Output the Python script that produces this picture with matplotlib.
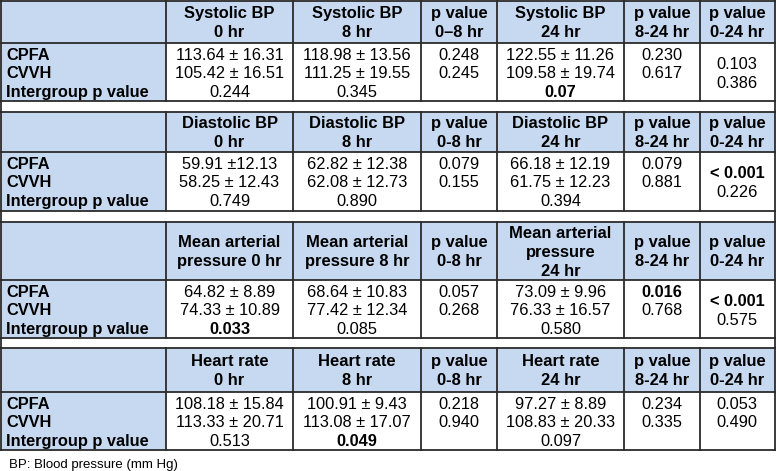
import matplotlib
matplotlib.use("Agg")
import matplotlib.pyplot as plt
from matplotlib.patches import Rectangle

plt.rcParams['font.family'] = ['Liberation Sans', 'DejaVu Sans']

# ---- table content ---------------------------------------------------
row_labels = ['CPFA', 'CVVH', 'Intergroup p value']

sys_header = ['Systolic BP\n0 hr', 'Systolic BP\n8 hr', 'p value\n0\u20138 hr',
              'Systolic BP\n24 hr', 'p value\n8-24 hr', 'p value\n0-24 hr']
sys_cpfa = ['113.64 \u00b1 16.31', '118.98 \u00b1 13.56', '0.248', '122.55 \u00b1 11.26', '0.230', '0.103']
sys_cvvh = ['105.42 \u00b1 16.51', '111.25 \u00b1 19.55', '0.245', '109.58 \u00b1 19.74', '0.617', '0.386']
sys_inter = ['0.244', '0.345', '', '0.07', '', '']

dia_header = ['Diastolic BP\n0 hr', 'Diastolic BP\n8 hr', 'p value\n0-8 hr',
              'Diastolic BP\n24 hr', 'p value\n8-24 hr', 'p value\n0-24 hr']
dia_cpfa = ['59.91 \u00b112.13', '62.82 \u00b1 12.38', '0.079', '66.18 \u00b1 12.19', '0.079', '< 0.001']
dia_cvvh = ['58.25 \u00b1 12.43', '62.08 \u00b1 12.73', '0.155', '61.75 \u00b1 12.23', '0.881', '0.226']
dia_inter = ['0.749', '0.890', '', '0.394', '', '']

map_header = ['Mean arterial\npressure 0 hr', 'Mean arterial\npressure 8 hr', 'p value\n0-8 hr',
              'Mean arterial\npressure\n24 hr', 'p value\n8-24 hr', 'p value\n0-24 hr']
map_cpfa = ['64.82 \u00b1 8.89', '68.64 \u00b1 10.83', '0.057', '73.09 \u00b1 9.96', '0.016', '< 0.001']
map_cvvh = ['74.33 \u00b1 10.89', '77.42 \u00b1 12.34', '0.268', '76.33 \u00b1 16.57', '0.768', '0.575']
map_inter = ['0.033', '0.085', '', '0.580', '', '']

hr_header = ['Heart rate\n0 hr', 'Heart rate\n8 hr', 'p value\n0-8 hr',
             'Heart rate\n24 hr', 'p value\n8-24 hr', 'p value\n0-24 hr']
hr_cpfa = ['108.18 \u00b1 15.84', '100.91 \u00b1 9.43', '0.218', '97.27 \u00b1 8.89', '0.234', '0.053']
hr_cvvh = ['113.33 \u00b1 20.71', '113.08 \u00b1 17.07', '0.940', '108.83 \u00b1 20.33', '0.335', '0.490']
hr_inter = ['0.513', '0.049', '', '0.097', '', '']

# bold cells: (section, row, column)
bold_cells = {(0, 2, 3), (1, 0, 5), (2, 2, 0), (2, 0, 4), (2, 0, 5), (3, 2, 1)}
# sections where the last column is vertically centred
centred_last = [True, True, True, False]

footnote = 'BP: Blood pressure (mm Hg)'

sections = [
    (sys_header, [sys_cpfa, sys_cvvh, sys_inter]),
    (dia_header, [dia_cpfa, dia_cvvh, dia_inter]),
    (map_header, [map_cpfa, map_cvvh, map_inter]),
    (hr_header, [hr_cpfa, hr_cvvh, hr_inter]),
]

# ---- layout (pixels) -------------------------------------------------
W, H = 776, 471
col_x = [0.5, 166, 293, 421, 497, 624, 700, 774.5]
# (header top, header bottom, data bottom)
sec_y = [(0.5, 43, 101), (112, 152, 211), (222, 280, 338), (348, 392, 450)]
row_h = 18.6
first_base = 16.8
cap = 11
head_fill = '#c6d9f1'
edge = '#2b2b2b'
fs = 11.8
fs_head = 11.9

fig = plt.figure(figsize=(W / 100, H / 100), dpi=100)
ax = fig.add_axes([0, 0, 1, 1])
ax.set_xlim(0, W)
ax.set_ylim(H, 0)
ax.axis('off')

for s, (header, rows) in enumerate(sections):
    top, hb, db = sec_y[s]
    # fills
    ax.add_patch(Rectangle((col_x[0], top), col_x[-1] - col_x[0], hb - top,
                           facecolor=head_fill, edgecolor='none'))
    ax.add_patch(Rectangle((col_x[0], hb), col_x[1] - col_x[0], db - hb,
                           facecolor=head_fill, edgecolor='none'))
    # grid lines
    for yy in (top, hb, db):
        ax.plot([col_x[0], col_x[-1]], [yy, yy], color=edge, lw=1.3)
    for xx in col_x:
        ax.plot([xx, xx], [top, db], color=edge, lw=1.3)
    # header text, line by line on baselines
    for c, txt in enumerate(header):
        cx = (col_x[c + 1] + col_x[c + 2]) / 2
        lines = txt.split('\n')
        block = (len(lines) - 1) * 19 + cap
        first = (top + hb) / 2 - block / 2 + cap
        for i, ln in enumerate(lines):
            ax.text(cx, first + i * 19, ln, ha='center', va='baseline',
                    fontsize=fs_head, fontweight='bold')
    # row labels
    for r, lab in enumerate(row_labels):
        ax.text(6, hb + first_base + r * row_h, lab, ha='left', va='baseline',
                fontsize=fs, fontweight='bold')
    # values
    for r, vals in enumerate(rows):
        for c, v in enumerate(vals):
            if not v:
                continue
            cx = (col_x[c + 1] + col_x[c + 2]) / 2
            yy = hb + first_base + r * row_h
            if c == 5 and centred_last[s]:
                yy = hb + first_base + (r + 0.5) * row_h
            ax.text(cx, yy, v, ha='center', va='baseline', fontsize=fs,
                    fontweight='bold' if (s, r, c) in bold_cells else 'normal')

# gap rows between sections
for s in range(len(sec_y) - 1):
    g0, g1 = sec_y[s][2], sec_y[s + 1][0]
    for xx in (col_x[0], col_x[-1]):
        ax.plot([xx, xx], [g0, g1], color=edge, lw=1.3)

ax.text(9, 468, footnote, ha='left', va='baseline', fontsize=9.5)

fig.savefig('out.png', dpi=100)
